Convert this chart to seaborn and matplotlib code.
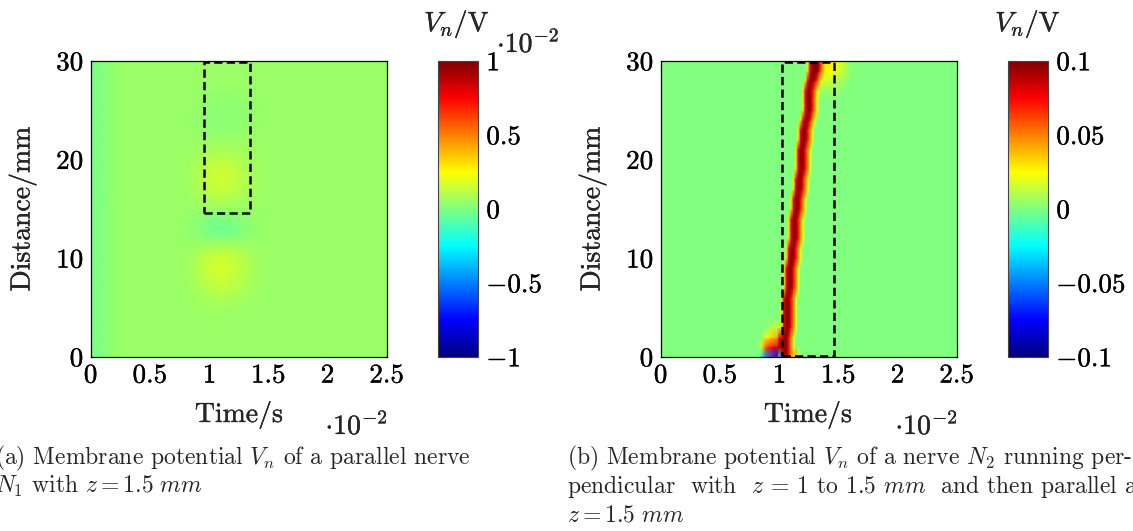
import numpy as np
import pandas as pd
import matplotlib
matplotlib.use("Agg")
import matplotlib.pyplot as plt
import matplotlib.patheffects as pe
from matplotlib.colors import LinearSegmentedColormap
from matplotlib.patches import Rectangle
import seaborn as sns

# ------------------------------------------------------------------ data
# Panel (a): membrane potential of parallel nerve N1, values in 1e-2 V
a_time_step = 0.1          # column spacing, in units of 1e-2 s
a_dist_step = 1.0          # row spacing, mm
# background level along time (one value per column, t = 0 ... 2.5)
a_background = [-0.01, 0.0, 0.04, 0.05, 0.05, 0.05, 0.05, 0.05, 0.05, 0.05,
                0.05, 0.05, 0.05, 0.05, 0.05, 0.05, 0.05, 0.05, 0.05, 0.05,
                0.05, 0.05, 0.05, 0.05, 0.05, 0.05]
# relative time envelope of the disturbance (per column)
a_time_shape = [0, 0, 0, 0, 0, 0, 0, 0.0, 0.08, 0.4, 0.85, 1.0, 0.8, 0.45,
                0.15, 0.03, 0, 0, 0, 0, 0, 0, 0, 0, 0, 0]
# disturbance amplitude along distance (per row, d = 0 ... 30 mm)
a_dist_profile = [0, 0, 0, 0, 0.005, 0.015, 0.04, 0.075, 0.1, 0.115, 0.1,
                  0.045, -0.04, -0.085, -0.055, 0.0, 0.045, 0.085, 0.105,
                  0.095, 0.065, 0.03, 0.0, -0.02, -0.03, -0.025, -0.015,
                  -0.005, 0, 0, 0]
a_box = [0.955, 1.34, 14.55, 29.85]      # t0, t1, d0, d1 of dashed box

# Panel (b): membrane potential of nerve N2, values in V
b_time_step = 0.02
b_dist_step = 1.0
b_n_cols = 126
# time (1e-2 s) of the peak of the action potential at each distance row
b_arrival = [1.05, 1.05, 1.05, 1.055, 1.055, 1.06, 1.065, 1.07, 1.08, 1.085,
             1.095, 1.10, 1.11, 1.12, 1.13, 1.14, 1.15, 1.16, 1.165, 1.175,
             1.18, 1.19, 1.20, 1.21, 1.22, 1.23, 1.24, 1.25, 1.26, 1.27, 1.275]
b_pulse = [0.03, 0.08, 0.097, 0.095, 0.072, 0.045, 0.018]  # across the band
b_pulse_lead = 2                                            # columns before peak
# bottom-left patch (rows d = 0..3, columns t = 0.84 ... 1.00)
b_bottom_t0 = 0.84
b_bottom_patch = [
    [-0.02, -0.035, -0.045, -0.05, -0.055, -0.06, -0.065, -0.07, -0.05],
    [0.015, 0.035, 0.055, 0.065, 0.07, 0.075, 0.078, 0.08, 0.085],
    [0.0, 0.008, 0.018, 0.025, 0.03, 0.035, 0.038, 0.042, 0.05],
    [0.0, 0.0, 0.0, 0.005, 0.008, 0.01, 0.012, 0.012, 0.015],
]
# foot of the pulse at d = 0 (columns t = 1.12 ... 1.18)
b_foot_t0 = 1.12
b_foot = [0.02, 0.045, 0.025, 0.008]
# top patch (rows d = 27..30, columns t = 1.30 ... 1.62)
b_top_t0 = 1.30
b_top_d0 = 27
b_top_patch = [
    [0.005, 0.006, 0.006, 0.006, 0.006, 0.005, 0.005, 0.004, 0.004, 0.003, 0.003, 0.002, 0.002, 0.001, 0.001, 0, 0],
    [0.016, 0.017, 0.017, 0.017, 0.016, 0.016, 0.015, 0.014, 0.013, 0.011, 0.01, 0.008, 0.006, 0.004, 0.003, 0.001, 0],
    [0.027, 0.028, 0.029, 0.029, 0.028, 0.027, 0.026, 0.024, 0.022, 0.02, 0.017, 0.014, 0.011, 0.008, 0.005, 0.003, 0.001],
    [0.03, 0.032, 0.033, 0.033, 0.032, 0.031, 0.03, 0.028, 0.026, 0.024, 0.021, 0.018, 0.014, 0.01, 0.006, 0.003, 0.001],
]
b_box = [1.02, 1.465, 0.1, 29.9]

# axes ticks / labels
x_ticks = [0, 0.5, 1, 1.5, 2, 2.5]
x_tick_labels = ["0", "0.5", "1", "1.5", "2", "2.5"]
y_ticks = [0, 10, 20, 30]
y_tick_labels = ["0", "10", "20", "30"]
a_cbar_ticks = [-1, -0.5, 0, 0.5, 1]
a_cbar_labels = ["-1", "-0.5", "0", "0.5", "1"]
b_cbar_ticks = [-0.1, -0.05, 0, 0.05, 0.1]
b_cbar_labels = ["-0.1", "-0.05", "0", "0.05", "0.1"]

caption_a = ["(a) Membrane potential $V_n$ of a parallel nerve",
             "$N_1$ with $z = 1.5\\ mm$"]
caption_b = ["(b) Membrane potential $V_n$ of a nerve $N_2$ running per-",
             "pendicular  with  $z$ = 1 to 1.5 $mm$  and then parallel at",
             "$z = 1.5\\ mm$"]

# ------------------------------------------------------------------ grids
grid_a = (np.array(a_background)[None, :]
          + np.array(a_dist_profile)[:, None] * np.array(a_time_shape)[None, :])

grid_b = np.zeros((len(b_arrival), b_n_cols))
for i, t_peak in enumerate(b_arrival):
    c = int(round(t_peak / b_time_step)) - b_pulse_lead
    grid_b[i, c:c + len(b_pulse)] += np.array(b_pulse)
bp = np.array(b_bottom_patch)
c0 = int(round(b_bottom_t0 / b_time_step))
grid_b[0:bp.shape[0], c0:c0 + bp.shape[1]] += bp
c0 = int(round(b_foot_t0 / b_time_step))
grid_b[0, c0:c0 + len(b_foot)] += np.array(b_foot)
tp = np.array(b_top_patch)
c0 = int(round(b_top_t0 / b_time_step))
grid_b[b_top_d0:b_top_d0 + tp.shape[0], c0:c0 + tp.shape[1]] += tp
grid_b = np.clip(grid_b, -0.1, 0.1)

# ------------------------------------------------------------------ style
sns.set_theme(style="white")
plt.rcParams.update({
    "font.family": ["cmr10", "DejaVu Serif"],
    "mathtext.fontset": "cm",
    "axes.formatter.use_mathtext": True,
    "axes.unicode_minus": False,
})

jet_pgf = LinearSegmentedColormap.from_list(
    "jet_pgf",
    [(0.0, (0, 0, 0.5)), (1 / 8, (0, 0, 1)), (3 / 8, (0, 1, 1)),
     (5 / 8, (1, 1, 0)), (7 / 8, (1, 0, 0)), (1.0, (0.5, 0, 0))])

W, H = 1133, 531
fig = plt.figure(figsize=(W / 100, H / 100), dpi=100)

BOLD = [pe.withStroke(linewidth=0.2, foreground="black")]


def fx(x):
    return x / W


def fy(y):
    return 1 - y / H


TICK_FS = 19.5
LABEL_FS = 20
CAP_FS = 17


def draw_panel(left, cbar_left, grid, t_step, d_step, vmin, vmax,
               cticks, clabels, box):
    ax = fig.add_axes([fx(left), fy(357), 296 / W, 296 / H])
    cax = fig.add_axes([fx(cbar_left), fy(357), 40 / W, 296 / H])
    sns.heatmap(grid, ax=ax, cbar_ax=cax, cmap=jet_pgf, vmin=vmin, vmax=vmax,
                xticklabels=False, yticklabels=False, shading="gouraud")
    nrows, ncols = grid.shape
    ax.set_xlim(0, ncols - 1)
    ax.set_ylim(0, nrows - 1)
    ax.set_xticks([t / t_step for t in x_ticks])
    ax.set_xticklabels([f"${s}$" for s in x_tick_labels])
    ax.set_yticks([d / d_step for d in y_ticks])
    ax.set_yticklabels([f"${s}$" for s in y_tick_labels])
    ax.tick_params(axis="both", direction="in", length=8, width=0.8,
                   color="gray", bottom=True, left=True, top=True, right=True,
                   labelbottom=True, labelleft=True, labeltop=False,
                   labelright=False, labelsize=TICK_FS, labelcolor="black",
                   pad=5)
    for s in ax.spines.values():
        s.set_visible(True)
        s.set_linewidth(0.9)
        s.set_color("black")
    t0, t1, d0, d1 = box
    ax.add_patch(Rectangle((t0 / t_step, d0 / d_step), (t1 - t0) / t_step,
                           (d1 - d0) / d_step, fill=False, edgecolor="black",
                           linewidth=1.8, linestyle=(0, (3.3, 1.7)),
                           clip_on=False, zorder=5))
    cb = ax.collections[0].colorbar
    cb.set_ticks(cticks)
    cb.set_ticklabels([f"${s}$" for s in clabels])
    cb.outline.set_linewidth(0.8)
    cb.outline.set_edgecolor("#444444")
    cax.yaxis.set_ticks_position("both")
    cax.tick_params(axis="y", direction="in", length=8, width=0.8,
                    color="gray", left=True, right=True, labelleft=False,
                    labelright=True, labelsize=TICK_FS, labelcolor="black",
                    pad=6)
    for lab in (ax.get_xticklabels() + ax.get_yticklabels()
                + cax.get_yticklabels()):
        lab.set_path_effects(BOLD)
    return ax, cax


draw_panel(91, 438, grid_a, a_time_step, a_dist_step, -1, 1,
           a_cbar_ticks, a_cbar_labels, a_box)
draw_panel(661, 1008, grid_b, b_time_step, b_dist_step, -0.1, 0.1,
           b_cbar_ticks, b_cbar_labels, b_box)

# axis labels and scale labels
for cx in (239, 808):
    fig.text(fx(cx), fy(422), "Time/s", ha="center", va="baseline",
             fontsize=LABEL_FS, path_effects=BOLD)
for cx in (22, 592):
    fig.text(fx(cx), fy(209), "Distance/mm", ha="center", va="center",
             rotation=90, fontsize=LABEL_FS, path_effects=BOLD)
for rx in (388, 958):
    fig.text(fx(rx), fy(434), r"$\cdot 10^{-2}$", ha="right", va="baseline",
             fontsize=LABEL_FS, path_effects=BOLD)
for cx in (457, 1028):
    fig.text(fx(cx), fy(31), r"$V_n/\mathrm{V}$", ha="center",
             va="baseline", fontsize=LABEL_FS, path_effects=BOLD)
fig.text(fx(497), fy(52), r"$\cdot 10^{-2}$", ha="left", va="baseline",
         fontsize=LABEL_FS, path_effects=BOLD)

# captions (clipped by the figure edges, as in the original page crop)
for k, line in enumerate(caption_a):
    fig.text(fx(-5), fy(464 + 28.5 * k), line, ha="left", va="baseline",
             fontsize=CAP_FS)
for k, line in enumerate(caption_b):
    fig.text(fx(567), fy(464 + 28.5 * k), line, ha="left", va="baseline",
             fontsize=CAP_FS)

fig.savefig("out.png", dpi=100)
